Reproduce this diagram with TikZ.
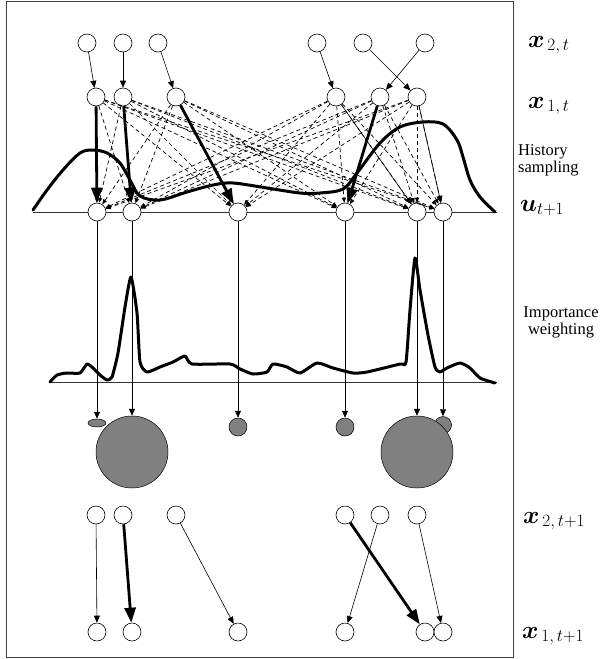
\documentclass[tikz,border=0pt]{standalone}
\usepackage{amsmath,amssymb}
\usepackage{bm}
\usepackage{fontspec}
\setmainfont{Liberation Serif}
\usepackage{tikz}
\usetikzlibrary{arrows.meta, shapes.geometric, backgrounds}

\begin{document}
\begin{tikzpicture}[
    x=1pt, y=-1pt,
    every node/.style={font=\fontsize{16.5}{17}\selectfont},
    state/.style={circle, draw=black, fill=white, line width=0.6pt,
                  minimum size=18pt, inner sep=0pt},
    weight/.style={circle, draw=black, fill=gray, line width=0.5pt,
                   minimum size=#1, inner sep=0pt},
    thinarr/.style={-{Triangle[length=7pt, width=6pt]}, line width=0.6pt},
    thickarr/.style={-{Triangle[length=15pt, width=11pt]}, line width=2.8pt},
    cand/.style={-{Triangle[length=5pt, width=4pt]}, dash pattern=on 4pt off 3pt,
                 line width=0.7pt},
    density/.style={line width=3pt, line join=round, line cap=round},
    axisline/.style={line width=0.7pt, black!80},
    lbl/.style={font=\fontsize{27}{30}\selectfont, anchor=base west, inner sep=0pt},
]
    \useasboundingbox (0,0) rectangle (605,659);
    \draw[line width=0.9pt, black!75] (6,1) rectangle (513,657);

    % x_{2,t}
    \node[state] (xa1) at (87,43) {};
    \node[state] (xa2) at (123,43) {};
    \node[state] (xa3) at (158,43) {};
    \node[state] (xa4) at (317,43) {};
    \node[state] (xa5) at (363,43) {};
    \node[state] (xa6) at (425,43) {};

    % x_{1,t}
    \node[state] (xb1) at (96,97) {};
    \node[state] (xb2) at (123,97) {};
    \node[state] (xb3) at (176,97) {};
    \node[state] (xb4) at (336,97) {};
    \node[state] (xb5) at (380,97) {};
    \node[state] (xb6) at (417,97) {};

    % u_{t+1}
    \node[state] (u1) at (97,212) {};
    \node[state] (u2) at (132,212) {};
    \node[state] (u3) at (238,212) {};
    \node[state] (u4) at (345,212) {};
    \node[state] (u5) at (417,212) {};
    \node[state] (u6) at (443,212) {};

    % weights
    \node[ellipse, draw=black, fill=gray, line width=0.5pt, minimum width=18pt,
          minimum height=8pt, inner sep=0pt] (w1) at (97,423) {};
    \node[weight=72pt] (w2) at (132,452) {};
    \node[weight=18pt] (w3) at (238,427) {};
    \node[weight=18pt] (w4) at (345,427) {};
    \node[weight=17pt] (w6) at (443,425) {};
    \node[weight=72pt] (w5) at (417,452) {};

    % x_{2,t+1}
    \node[state] (ya1) at (96,515) {};
    \node[state] (ya2) at (123,515) {};
    \node[state] (ya3) at (176,515) {};
    \node[state] (ya4) at (345,515) {};
    \node[state] (ya5) at (380,515) {};
    \node[state] (ya6) at (417,515) {};

    % x_{1,t+1}
    \node[state] (yb1) at (97,632) {};
    \node[state] (yb2) at (132,632) {};
    \node[state] (yb3) at (238,632) {};
    \node[state] (yb4) at (345,632) {};
    \node[state] (yb5) at (425,632) {};
    \node[state] (yb6) at (443,632) {};

    \begin{scope}[on background layer]
        \draw[axisline] (33,212) -- (497,212);
        \draw[density] plot[smooth, tension=0.55] coordinates {
            (33,210) (47,190) (63,170) (80,153) (93,150) (107,153) (120,163)
            (130,180) (140,196) (160,200) (187,192) (213,185) (233,183)
            (267,188) (300,193) (320,193) (343,189) (357,173) (380,143)
            (400,127) (423,122) (443,124) (457,140) (463,157) (470,180)
            (480,197) (495,212)};
        \draw[axisline] (50,382) -- (497,382);
        \draw[density] plot[smooth, tension=0.35] coordinates {
            (50,382) (57,375) (67,373) (80,373) (87,364) (93,368) (100,375)
            (107,380) (112,377) (118,353) (125,307) (131,277) (137,313)
            (140,362) (147,372) (160,367) (173,362) (185,356) (192,364)
            (230,364) (240,369) (253,374) (267,372) (273,364) (287,367)
            (300,373) (317,363) (333,368) (353,373) (367,372) (400,364)
            (406,362) (410,310) (415,258) (420,290) (428,335) (435,367)
            (440,372) (447,368) (460,363) (470,368) (480,378) (495,383)};
    \end{scope}

    % prediction
    \draw[thinarr] (xa1) -- (xb1);
    \draw[thinarr] (xa2) -- (xb2);
    \draw[thinarr] (xa3) -- (xb3);
    \draw[thinarr] (xa4) -- (xb4);
    \draw[thinarr] (xa5) -- (xb6);
    \draw[thinarr] (xa6) -- (xb5);

    % history sampling
    \foreach \i in {1,...,6}
        \foreach \j in {1,...,6}
            \draw[cand] (xb\i) -- (u\j);
    \draw[thickarr] (xb1) -- (u1);
    \draw[thickarr] (xb2) -- (u2);
    \draw[thickarr] (xb3) -- (u3);
    \draw[thickarr] (xb5) -- (u4);
    \draw[thinarr] (xb4) -- (u5);
    \draw[thinarr] (xb6) -- (u6);

    % importance weighting
    \draw[thinarr] (u1) -- (w1);
    \draw[thinarr] (u2) -- (w2);
    \draw[thinarr] (u3) -- (w3);
    \draw[thinarr] (u4) -- (w4);
    \draw[thinarr] (u5) -- (w5);
    \draw[thinarr] (u6) -- (w6);

    % resampled step
    \draw[thinarr] (ya1) -- (yb1);
    \draw[thickarr] (ya2) -- (yb2);
    \draw[thinarr] (ya3) -- (yb3);
    \draw[thickarr] (ya4) -- (yb5);
    \draw[thinarr] (ya5) -- (yb4);
    \draw[thinarr] (ya6) -- (yb6);

    % row labels
    \node[lbl] (lx2t) at (528,47) {$\bm{x}_{\,2,\,t}$};
    \node[lbl] (lx1t) at (528,108) {$\bm{x}_{\,1,\,t}$};
    \node[anchor=north west, align=left, inner sep=0pt] (lhist) at (518,144)
        {History\\sampling};
    \node[lbl] (lut) at (520,211) {$\bm{u}_{t+1}$};
    \node[align=center, inner sep=0pt] (limp) at (561,322) {Importance\\weighting};
    \node[lbl] (lx2n) at (523,523) {$\bm{x}_{\,2,\,t+1}$};
    \node[lbl] (lx1n) at (522,638) {$\bm{x}_{\,1,\,t+1}$};
\end{tikzpicture}
\end{document}
